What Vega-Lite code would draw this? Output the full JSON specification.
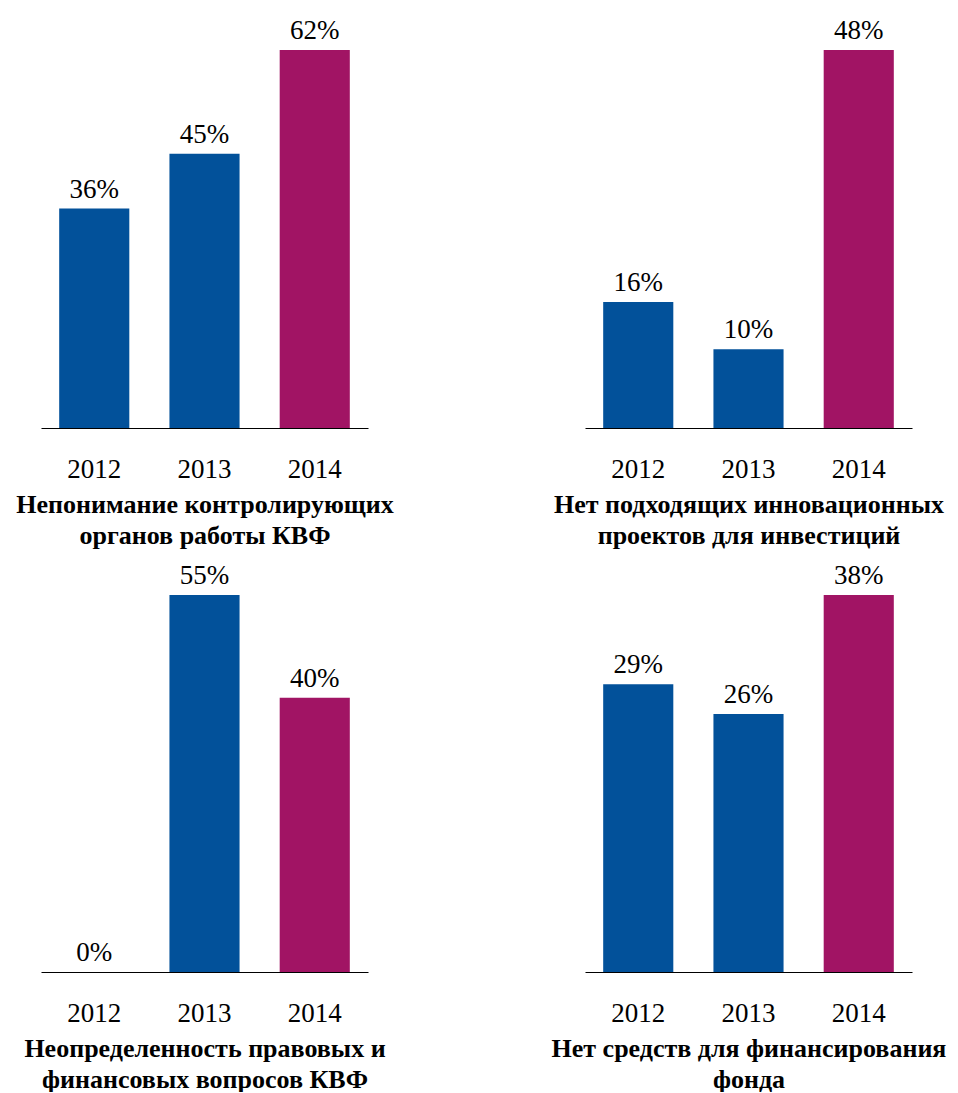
{
  "$schema": "https://vega.github.io/schema/vega-lite/v6.json",
  "background": "white",
  "padding": {"left": 15, "top": 17, "right": 5, "bottom": 0},
  "data": {"values": [
    {"panel": 1, "year": "2012", "value": 0.36},
    {"panel": 1, "year": "2013", "value": 0.45},
    {"panel": 1, "year": "2014", "value": 0.62},
    {"panel": 2, "year": "2012", "value": 0.16},
    {"panel": 2, "year": "2013", "value": 0.10},
    {"panel": 2, "year": "2014", "value": 0.48},
    {"panel": 3, "year": "2012", "value": 0.0},
    {"panel": 3, "year": "2013", "value": 0.55},
    {"panel": 3, "year": "2014", "value": 0.40},
    {"panel": 4, "year": "2012", "value": 0.29},
    {"panel": 4, "year": "2013", "value": 0.26},
    {"panel": 4, "year": "2014", "value": 0.38}
  ]},
  "columns": 2,
  "spacing": {"row": 167, "column": 217},
  "bounds": "flush",
  "config": {
    "font": "Liberation Serif",
    "view": {"stroke": null},
    "text": {"font": "Liberation Serif"},
    "axisX": {
      "labelFont": "Liberation Serif",
      "titleFont": "Liberation Serif",
      "domainColor": "#000000",
      "domainWidth": 1.2,
      "labelFontSize": 27,
      "labelColor": "#000000",
      "labelAngle": 0,
      "labelPadding": 28,
      "ticks": false,
      "tickSize": 0,
      "grid": false,
      "titleFontSize": 26,
      "titleFontWeight": "bold",
      "titleColor": "#000000",
      "titleLineHeight": 31,
      "titlePadding": 9
    }
  },
  "concat": [
    {
      "width": 327, "height": 378,
      "transform": [{"filter": "datum.panel == 1"}],
      "encoding": {
        "x": {"field": "year", "type": "nominal", "scale": {"paddingInner": 0.364, "paddingOuter": 0.165}, "axis": {"title": ["Непонимание контролирующих", "органов работы КВФ"]}},
        "y": {"field": "value", "type": "quantitative", "scale": {"nice": false, "zero": true}, "axis": null}
      },
      "layer": [
        {"mark": {"type": "bar"}, "encoding": {"color": {"field": "year", "type": "nominal", "scale": {"domain": ["2012", "2013", "2014"], "range": ["#02519A", "#02519A", "#A11464"]}, "legend": null}}},
        {"mark": {"type": "text", "baseline": "alphabetic", "dy": -11, "fontSize": 27, "color": "#000000"}, "encoding": {"text": {"field": "value", "type": "quantitative", "format": ".0%"}}}
      ]
    },
    {
      "width": 327, "height": 378,
      "transform": [{"filter": "datum.panel == 2"}],
      "encoding": {
        "x": {"field": "year", "type": "nominal", "scale": {"paddingInner": 0.364, "paddingOuter": 0.165}, "axis": {"title": ["Нет подходящих инновационных", "проектов для инвестиций"]}},
        "y": {"field": "value", "type": "quantitative", "scale": {"nice": false, "zero": true}, "axis": null}
      },
      "layer": [
        {"mark": {"type": "bar"}, "encoding": {"color": {"field": "year", "type": "nominal", "scale": {"domain": ["2012", "2013", "2014"], "range": ["#02519A", "#02519A", "#A11464"]}, "legend": null}}},
        {"mark": {"type": "text", "baseline": "alphabetic", "dy": -11, "fontSize": 27, "color": "#000000"}, "encoding": {"text": {"field": "value", "type": "quantitative", "format": ".0%"}}}
      ]
    },
    {
      "width": 327, "height": 377,
      "transform": [{"filter": "datum.panel == 3"}],
      "encoding": {
        "x": {"field": "year", "type": "nominal", "scale": {"paddingInner": 0.364, "paddingOuter": 0.165}, "axis": {"title": ["Неопределенность правовых и", "финансовых вопросов КВФ"]}},
        "y": {"field": "value", "type": "quantitative", "scale": {"nice": false, "zero": true}, "axis": null}
      },
      "layer": [
        {"mark": {"type": "bar"}, "encoding": {"color": {"field": "year", "type": "nominal", "scale": {"domain": ["2012", "2013", "2014"], "range": ["#02519A", "#02519A", "#A11464"]}, "legend": null}}},
        {"mark": {"type": "text", "baseline": "alphabetic", "dy": -11, "fontSize": 27, "color": "#000000"}, "encoding": {"text": {"field": "value", "type": "quantitative", "format": ".0%"}}}
      ]
    },
    {
      "width": 327, "height": 377,
      "transform": [{"filter": "datum.panel == 4"}],
      "encoding": {
        "x": {"field": "year", "type": "nominal", "scale": {"paddingInner": 0.364, "paddingOuter": 0.165}, "axis": {"title": ["Нет средств для финансирования", "фонда"]}},
        "y": {"field": "value", "type": "quantitative", "scale": {"nice": false, "zero": true}, "axis": null}
      },
      "layer": [
        {"mark": {"type": "bar"}, "encoding": {"color": {"field": "year", "type": "nominal", "scale": {"domain": ["2012", "2013", "2014"], "range": ["#02519A", "#02519A", "#A11464"]}, "legend": null}}},
        {"mark": {"type": "text", "baseline": "alphabetic", "dy": -11, "fontSize": 27, "color": "#000000"}, "encoding": {"text": {"field": "value", "type": "quantitative", "format": ".0%"}}}
      ]
    }
  ]
}
